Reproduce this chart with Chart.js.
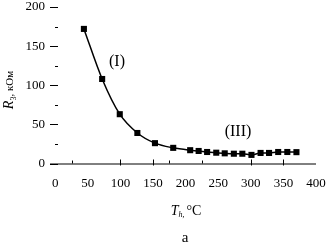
<!DOCTYPE html>
<html lang="ru">
<head>
<meta charset="UTF-8">
<title>R3 vs Th</title>
<script src="https://cdn.jsdelivr.net/npm/chart.js"></script>
<style>
  body { margin: 0; background: #fff; }
  canvas { display: block; }
</style>
</head>
<body>
<canvas id="chart" width="326" height="247"></canvas>
<script>
// data
const temps  = [44, 72, 99, 126, 153, 181, 207, 220, 233, 247, 260, 274, 287, 301, 315, 328, 342, 356, 370];
const resist = [172, 108, 63, 39, 26, 20, 17, 16, 14.7, 13.8, 13, 12.5, 12.5, 11, 13.5, 13.5, 14.7, 14.7, 14.5];

const xTickLabels = [0, 50, 100, 150, 200, 250, 300, 350, 400];
const yTickLabels = [0, 50, 100, 150, 200];
const yMinorTicks = [25, 75, 125, 175];
const xMajorMarks = [100, 150, 300, 350];
const xMinorMarks = [25, 175, 225];

const serif = '"Liberation Serif", "DejaVu Serif", serif';

// axes, ticks and text drawn by hand, placed with the chart's scales
const axesPlugin = {
  id: 'axesPlugin',
  afterDraw(chart) {
    const ctx = chart.ctx;
    const xs = chart.scales.x, ys = chart.scales.y;
    const y0 = ys.getPixelForValue(0);
    ctx.save();
    ctx.strokeStyle = '#000';
    ctx.fillStyle = '#000';
    ctx.lineWidth = 1;

    // x axis line
    ctx.beginPath();
    ctx.moveTo(chart.chartArea.left, y0 + 0.5);
    ctx.lineTo(chart.chartArea.right, y0 + 0.5);
    ctx.stroke();

    // x tick marks
    ctx.beginPath();
    xMajorMarks.forEach(v => {
      const px = Math.round(xs.getPixelForValue(v)) + 0.5;
      ctx.moveTo(px, y0 - 4); ctx.lineTo(px, y0 + 2);
    });
    xMinorMarks.forEach(v => {
      const px = Math.round(xs.getPixelForValue(v)) + 0.5;
      ctx.moveTo(px, y0 - 3); ctx.lineTo(px, y0);
    });
    // y tick marks
    yTickLabels.forEach(v => {
      const py = Math.round(ys.getPixelForValue(v)) + 0.5;
      ctx.moveTo(50, py); ctx.lineTo(58, py);
    });
    yMinorTicks.forEach(v => {
      const py = Math.round(ys.getPixelForValue(v)) + 0.5;
      ctx.moveTo(55, py); ctx.lineTo(58, py);
    });
    ctx.stroke();

    // tick labels
    ctx.font = '13px ' + serif;
    ctx.textBaseline = 'middle';
    ctx.textAlign = 'center';
    xTickLabels.forEach(v => ctx.fillText(String(v), xs.getPixelForValue(v), 184));
    ctx.textAlign = 'right';
    yTickLabels.forEach(v => ctx.fillText(String(v), 45, ys.getPixelForValue(v)));

    // curve labels
    ctx.font = '16px ' + serif;
    ctx.textAlign = 'center';
    ctx.fillText('(I)', 117, 62);
    ctx.fillText('(III)', 238, 132);

    // x title: T_h, °C
    ctx.textAlign = 'left';
    ctx.textBaseline = 'alphabetic';
    const fT = 'italic 14px ' + serif, fS = 'italic 8px ' + serif, fN = '14px ' + serif;
    ctx.font = fT; const wT = ctx.measureText('T').width;
    ctx.font = fS; const wS = ctx.measureText('h, ').width;
    ctx.font = fN; const wC = ctx.measureText('°C').width;
    let x = 186 - (wT + wS + wC) / 2;
    const base = 215;
    ctx.font = fT; ctx.fillText('T', x, base); x += wT;
    ctx.font = fS; ctx.fillText('h, ', x, base + 2); x += wS;
    ctx.font = fN; ctx.fillText('°C', x, base);

    // panel letter
    ctx.font = '15px ' + serif;
    ctx.textAlign = 'center';
    ctx.fillText('a', 185, 242);

    // y title: R_3, кОм (rotated)
    ctx.translate(13, 90);
    ctx.rotate(-Math.PI / 2);
    ctx.textAlign = 'left';
    const fR = 'italic 14px ' + serif, f3 = '8px ' + serif, fU = '11px ' + serif;
    ctx.font = fR; const wR = ctx.measureText('R').width;
    ctx.font = f3; const w3 = ctx.measureText('3').width;
    ctx.font = fU; const wU = ctx.measureText(', кОм').width;
    let tx = -(wR + w3 + wU) / 2;
    ctx.font = fR; ctx.fillText('R', tx, 0); tx += wR;
    ctx.font = f3; ctx.fillText('3', tx, 3); tx += w3;
    ctx.font = fU; ctx.fillText(', кОм', tx, 0);

    ctx.restore();
  }
};

new Chart(document.getElementById('chart'), {
  type: 'line',
  data: {
    labels: temps,
    datasets: [{
      data: temps.map((t, i) => ({ x: t, y: resist[i] })),
      borderColor: '#000',
      backgroundColor: '#000',
      borderWidth: 1.5,
      cubicInterpolationMode: 'monotone',
      pointStyle: 'rect',
      pointRadius: 4.3,
      pointBorderWidth: 0,
      clip: false
    }]
  },
  options: {
    responsive: false,
    animation: false,
    layout: { padding: { left: 50, right: 10, top: 7, bottom: 83.5 } },
    plugins: { legend: { display: false }, tooltip: { enabled: false } },
    scales: {
      x: { type: 'linear', min: -8, max: 400, display: false },
      y: { type: 'linear', min: 0, max: 200, display: false }
    }
  },
  plugins: [axesPlugin]
});
</script>
</body>
</html>
